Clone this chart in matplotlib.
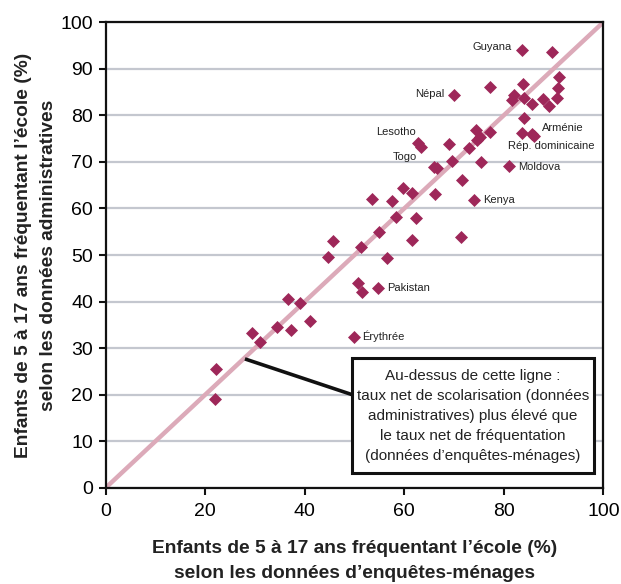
import matplotlib
matplotlib.use("Agg")
import matplotlib.pyplot as plt
from matplotlib.patches import Rectangle

plt.rcParams['font.family'] = ['Liberation Sans', 'DejaVu Sans']

# enquetes-menages (x) vs donnees administratives (y)
menages = [83.6, 89.6, 91.1, 77.3, 83.9, 70.0, 90.8, 82.1, 81.6, 84.1,
           85.6, 87.8, 90.6, 89.0, 84.0, 74.4, 77.3, 83.6, 85.6, 86.1,
           74.6, 75.2, 62.8, 63.3, 69.0, 72.9, 66.0, 66.5, 69.5, 75.5,
           81.1, 71.5, 59.8, 61.5, 66.1, 53.5, 57.6, 74.0, 58.3, 62.3,
           54.9, 45.7, 61.5, 71.3, 51.4, 44.6, 56.5, 50.7, 51.6, 54.8,
           36.7, 39.1, 41.1, 34.4, 37.2, 29.5, 31.0, 49.8, 22.2, 22.0]
admin = [93.9, 93.5, 88.3, 86.1, 86.6, 84.3, 85.8, 84.4, 83.3, 83.6,
         82.4, 83.5, 83.6, 81.9, 79.4, 76.8, 76.3, 76.1, 75.9, 75.6,
         74.7, 75.3, 74.0, 73.2, 73.8, 72.9, 68.9, 68.6, 70.2, 70.0,
         69.0, 66.2, 64.3, 63.2, 63.0, 62.0, 61.6, 61.7, 58.2, 57.9,
         55.0, 53.0, 53.2, 53.9, 51.8, 49.6, 49.4, 43.9, 42.1, 43.0,
         40.5, 39.8, 35.8, 34.5, 33.9, 33.2, 31.4, 32.5, 25.5, 19.0]

# country labels: name, x, y, alignment
labels = [("Guyana", 81.6, 94.6, "right"),
          ("Népal", 68.0, 84.5, "right"),
          ("Lesotho", 54.3, 76.5, "left"),
          ("Togo", 57.7, 71.1, "left"),
          ("Arménie", 87.6, 77.3, "left"),
          ("Rép. dominicaine", 80.8, 73.4, "left"),
          ("Moldova", 82.8, 68.9, "left"),
          ("Kenya", 75.8, 61.7, "left"),
          ("Pakistan", 56.5, 43.0, "left"),
          ("Érythrée", 51.6, 32.5, "left")]

note = ("Au-dessus de cette ligne :\n"
        "taux net de scolarisation (données\n"
        "administratives) plus élevé que\n"
        "le taux net de fréquentation\n"
        "(données d’enquêtes-ménages)")

fig = plt.figure(figsize=(6.21, 5.84), dpi=100)
ax = fig.add_axes([0.1699, 0.1644, 0.8019, 0.7979])

ax.set_xlim(0, 100)
ax.set_ylim(0, 100)
ax.set_xticks(range(0, 101, 20))
ax.set_yticks(range(0, 101, 10))
ax.yaxis.grid(True, color="#c4c7cf", linewidth=1.6)
ax.set_axisbelow(True)
for s in ax.spines.values():
    s.set_linewidth(1.6)
    s.set_color("#111111")
ax.tick_params(axis="both", length=5, width=1.5, labelsize=14, pad=4, color="#111111")
ax.tick_params(axis="x", pad=6)

ax.plot([0, 100], [0, 100], color="#dcaab9", linewidth=3.2, zorder=2, solid_capstyle="butt")
ax.scatter(menages, admin, marker="D", s=44, color="#9e2759", zorder=3, linewidths=0)

for name, x, y, ha in labels:
    ax.text(x, y, name, ha=ha, va="center", fontsize=8, color="#222222", zorder=4)

# annotation box and pointer line
ax.plot([28.0, 49.6], [27.7, 20.0], color="#111111", linewidth=2.6, zorder=4, solid_capstyle="butt")
ax.add_patch(Rectangle((49.5, 3.2), 48.6, 24.7, facecolor="white", edgecolor="#111111",
                       linewidth=2.2, zorder=5))
ax.text(73.8, 15.4, note, ha="center", va="center", fontsize=11, linespacing=1.55,
        family=["Liberation Sans Narrow", "Liberation Sans", "DejaVu Sans"],
        color="#222222", zorder=6)

fig.text(0.5708, 0.040, "Enfants de 5 à 17 ans fréquentant l’école (%)\nselon les données d’enquêtes-ménages",
         ha="center", va="center", fontsize=13.8, fontweight="bold", linespacing=1.6, color="#222222")
fig.text(0.058, 0.5631, "Enfants de 5 à 17 ans fréquentant l’école (%)\nselon les données administratives",
         ha="center", va="center", rotation=90, fontsize=13.8, fontweight="bold", linespacing=1.6,
         color="#222222")

fig.savefig("out.png", dpi=100)
